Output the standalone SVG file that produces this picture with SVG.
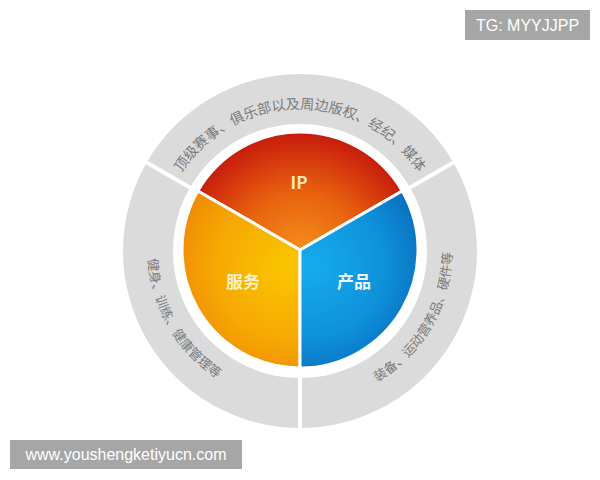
<svg xmlns="http://www.w3.org/2000/svg" width="600" height="480" viewBox="0 0 600 480">
<style>
.ring{fill:#dbdbdb;}
.div{stroke:#ffffff;stroke-width:4;fill:none;}
.slice{stroke:#ffffff;stroke-width:3;stroke-linejoin:round;}
.rt{font-family:"Noto Sans CJK SC","Noto Sans",sans-serif;fill:#7a7a7a;}
.lbl{font-family:"Noto Sans CJK SC","Noto Sans",sans-serif;font-weight:bold;font-size:17px;text-anchor:middle;}
.wm{font-family:"Liberation Sans",Arial,sans-serif;font-size:16px;fill:#ffffff;}
</style>
<defs>
<radialGradient id="gIP" gradientUnits="userSpaceOnUse" cx="300" cy="255" r="125">
<stop offset="0" stop-color="#f5921a"/>
<stop offset="0.5" stop-color="#e8620f"/>
<stop offset="1" stop-color="#c6180c"/>
</radialGradient>
<radialGradient id="gFW" gradientUnits="userSpaceOnUse" cx="288" cy="268" r="130">
<stop offset="0" stop-color="#fac600"/>
<stop offset="0.55" stop-color="#f6a903"/>
<stop offset="1" stop-color="#ee8206"/>
</radialGradient>
<radialGradient id="gCP" gradientUnits="userSpaceOnUse" cx="312" cy="265" r="130">
<stop offset="0" stop-color="#17abee"/>
<stop offset="0.55" stop-color="#0e92da"/>
<stop offset="1" stop-color="#0a64b6"/>
</radialGradient>
<path id="pTop" d="M158,251 A142,142 0 0 1 442,251"/>
<path id="pLeft" d="M168.4,175 A152,152 0 0 0 300,403"/>
<path id="pRight" d="M300,403 A152,152 0 0 0 431.6,175"/>
</defs>
<rect width="600" height="480" fill="#ffffff"/>

<g id="ring-top">
<path class="ring" d="M146.7,162.5 A177,177 0 0 1 453.3,162.5 L410,187.5 A127,127 0 0 0 190,187.5 Z"/>
<text class="rt" font-size="14"><textPath href="#pTop" startOffset="50%" text-anchor="middle">顶级赛事、俱乐部以及周边版权、经纪、媒体</textPath></text>
</g>
<g id="ring-left">
<path class="ring" d="M146.7,162.5 L190,187.5 A127,127 0 0 0 300,378 L300,428 A177,177 0 0 1 146.7,162.5 Z"/>
<text class="rt" font-size="13"><textPath href="#pLeft" startOffset="50%" text-anchor="middle">健身、训练、健康管理等</textPath></text>
</g>
<g id="ring-right">
<path class="ring" d="M453.3,162.5 A177,177 0 0 1 300,428 L300,378 A127,127 0 0 0 410,187.5 Z"/>
<text class="rt" font-size="13"><textPath href="#pRight" startOffset="50%" text-anchor="middle">装备、运动营养品、硬件等</textPath></text>
</g>

<g id="slice-ip">
<path class="slice" fill="url(#gIP)" d="M300,250 L197.8,191 A118,118 0 0 1 402.2,191 Z"/>
<text class="lbl" x="299" y="189" fill="#fde8b4">IP</text>
</g>
<g id="slice-fuwu">
<path class="slice" fill="url(#gFW)" d="M300,250 L300,368 A118,118 0 0 1 197.8,191 Z"/>
<text class="lbl" x="243" y="288" fill="#fdf0c6">服务</text>
</g>
<g id="slice-chanpin">
<path class="slice" fill="url(#gCP)" d="M300,250 L402.2,191 A118,118 0 0 1 300,368 Z"/>
<text class="lbl" x="354" y="288" fill="#eef8ff">产品</text>
</g>

<g id="connectors">
<line class="div" x1="300" y1="376" x2="300" y2="432"/>
<line class="div" x1="191.7" y1="188.5" x2="143.2" y2="160.5"/>
<line class="div" x1="408.3" y1="188.5" x2="456.8" y2="160.5"/>
</g>

<g id="tag-tg">
<rect x="465" y="10" width="125" height="30" fill="#a6a6a6"/>
<text class="wm" x="527.5" y="31" text-anchor="middle">TG: MYYJJPP</text>
</g>
<g id="tag-url">
<rect x="10" y="440" width="232" height="29" fill="#a6a6a6"/>
<text class="wm" x="126" y="460" text-anchor="middle">www.youshengketiyucn.com</text>
</g>
</svg>
